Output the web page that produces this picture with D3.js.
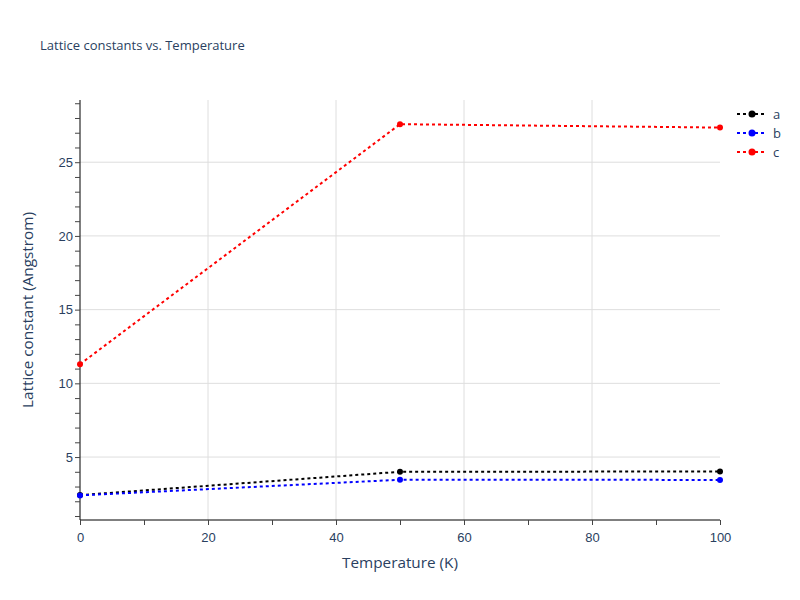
<!DOCTYPE html>
<html><head><meta charset="utf-8">
<script src="https://cdn.jsdelivr.net/npm/d3@7"></script>
<style>body{margin:0;background:#fff}svg{font-family:"Open Sans",sans-serif}</style>
</head><body><svg id="c" width="800" height="600"></svg>
<script>
const temps = [0, 50, 100];
const seriesNames = ["a", "b", "c"];
const seriesColors = ["#000000", "#0000ff", "#ff0000"];
const aValues = [2.42, 4.00, 4.02];
const bValues = [2.40, 3.46, 3.45];
const cValues = [11.3, 27.58, 27.35];
const xTicks = [0, 20, 40, 60, 80, 100];
const yTicks = [5, 10, 15, 20, 25];
const allValues = [aValues, bValues, cValues];

const svg = d3.select("#c");
const M = {l:80, r:720, t:100, b:520};
const x = d3.scaleLinear().domain([0,100]).range([M.l, M.r]);
const y = d3.scaleLinear().domain([0.73, 29.22]).range([M.b, M.t]);
const textColor = "#2a3f5f";

// grid
svg.append("g").selectAll("line").data(xTicks.slice(1,-1)).join("line")
  .attr("x1", d=>x(d)).attr("x2", d=>x(d)).attr("y1", M.t).attr("y2", M.b)
  .attr("stroke", "#dedede").attr("stroke-width", 1);
svg.append("g").selectAll("line").data(yTicks).join("line")
  .attr("x1", M.l).attr("x2", M.r).attr("y1", d=>y(d)).attr("y2", d=>y(d))
  .attr("stroke", "#dedede").attr("stroke-width", 1);

// x axis
const xMinor = d3.range(0, 101, 10);
const gx = svg.append("g").attr("transform", `translate(0,${M.b})`);
gx.call(d3.axisBottom(x).tickValues(xMinor).tickSize(5).tickFormat(d => xTicks.includes(d) ? d : ""));
gx.select(".domain").attr("stroke", "#000").attr("d", `M${M.l},0H${M.r}`);
gx.selectAll(".tick line").attr("stroke", "#444");
gx.selectAll(".tick text").attr("fill", textColor).attr("font-size", 13).attr("dy", "1.05em");

// y axis
const yMinor = d3.range(1, 30, 1);
const gy = svg.append("g").attr("transform", `translate(${M.l},0)`);
gy.call(d3.axisLeft(y).tickValues(yMinor).tickSize(5).tickFormat(d => yTicks.includes(d) ? d : ""));
gy.select(".domain").attr("stroke", "#000").attr("d", `M0,${M.t}V${M.b}`);
gy.selectAll(".tick line").attr("stroke", "#444");
gy.selectAll(".tick text").attr("fill", textColor).attr("font-size", 13).attr("x", -7);

// lines
const line = d3.line().x((d,i)=>x(temps[i])).y(d=>y(d));
allValues.forEach((vals, k) => {
  const g = svg.append("g");
  g.append("path").attr("d", line(vals)).attr("fill","none")
    .attr("stroke", seriesColors[k]).attr("stroke-width", 2).attr("stroke-dasharray", "3,3");
  g.selectAll("circle").data(vals).join("circle")
    .attr("cx", (d,i)=>x(temps[i])).attr("cy", d=>y(d)).attr("r", 3)
    .attr("fill", seriesColors[k]);
});

// title
svg.append("text").attr("x", 40).attr("y", 50).attr("fill", textColor)
  .attr("font-size", 13).text("Lattice constants vs. Temperature");
svg.append("text").attr("x", 400).attr("y", 568).attr("text-anchor","middle")
  .attr("fill", textColor).attr("font-size", 15.3).text("Temperature (K)");
svg.append("text").attr("transform", "translate(33,310) rotate(-90)").attr("text-anchor","middle")
  .attr("fill", textColor).attr("font-size", 15.3).text("Lattice constant (Angstrom)");

// legend
const lg = svg.append("g").selectAll("g").data(seriesNames).join("g")
  .attr("transform", (d,i)=>`translate(737,${114 + i*19})`);
lg.append("line").attr("x1",0).attr("x2",30).attr("y1",0).attr("y2",0)
  .attr("stroke",(d,i)=>seriesColors[i]).attr("stroke-width",2).attr("stroke-dasharray","3,3");
lg.append("circle").attr("cx",15).attr("cy",0).attr("r",3.5).attr("fill",(d,i)=>seriesColors[i]);
lg.append("text").attr("x",36).attr("y",4.5).attr("font-size",13).attr("fill",textColor).text(d=>d);
</script></body></html>
